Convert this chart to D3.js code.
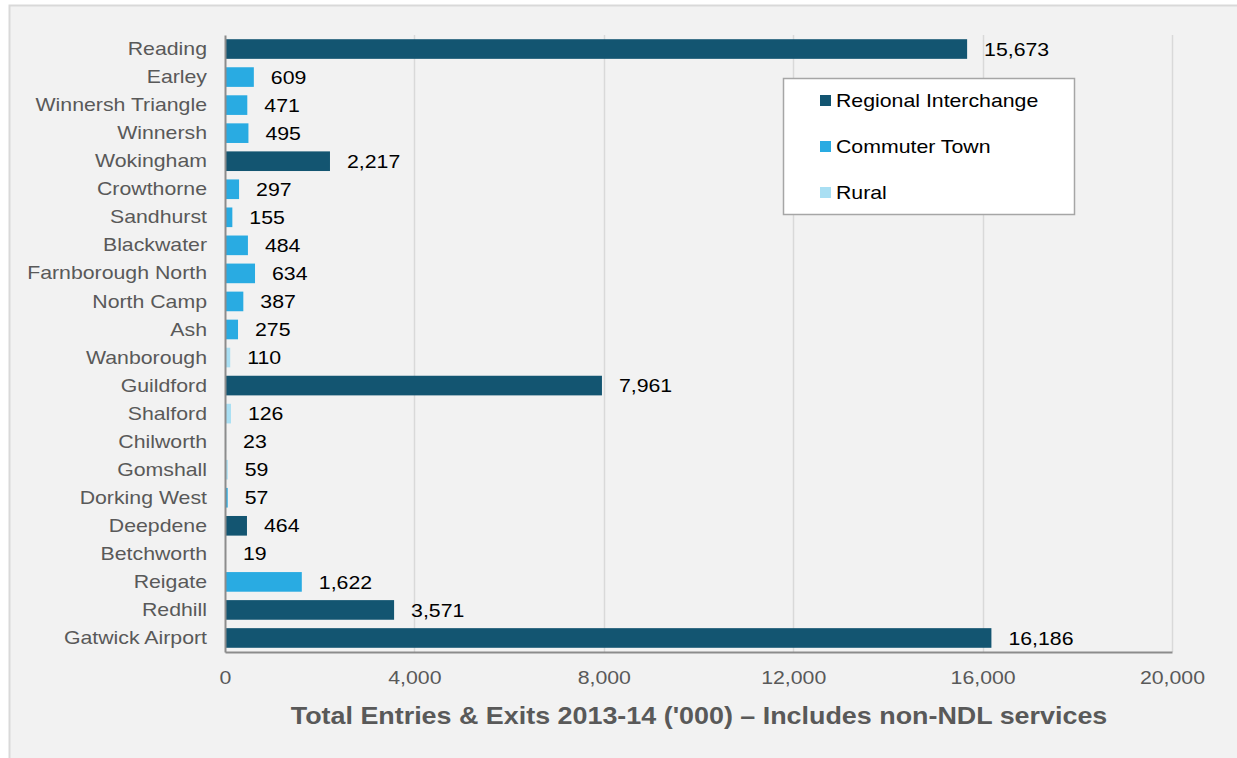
<!DOCTYPE html>
<html>
<head>
<meta charset="utf-8">
<script src="https://cdn.jsdelivr.net/npm/d3@7"></script>
<style>
  html, body { margin: 0; padding: 0; background: #ffffff; }
  svg { display: block; font-family: "Liberation Sans", Arial, sans-serif; }
</style>
</head>
<body>
<svg id="chart" width="1237" height="758"></svg>
<script>
// Stations along the North Downs Line, west to east
const stations = ["Reading", "Earley", "Winnersh Triangle", "Winnersh", "Wokingham", "Crowthorne",
  "Sandhurst", "Blackwater", "Farnborough North", "North Camp", "Ash", "Wanborough", "Guildford",
  "Shalford", "Chilworth", "Gomshall", "Dorking West", "Deepdene", "Betchworth", "Reigate",
  "Redhill", "Gatwick Airport"];
// Total entries & exits 2013-14 ('000)
const entriesExits = [15673, 609, 471, 495, 2217, 297, 155, 484, 634, 387, 275, 110, 7961,
  126, 23, 59, 57, 464, 19, 1622, 3571, 16186];
// Station type
const stationTypes = ["Regional Interchange", "Commuter Town", "Commuter Town", "Commuter Town",
  "Regional Interchange", "Commuter Town", "Commuter Town", "Commuter Town", "Commuter Town",
  "Commuter Town", "Commuter Town", "Rural", "Regional Interchange", "Rural", "Rural", "Rural",
  "Commuter Town", "Regional Interchange", "Rural", "Commuter Town", "Regional Interchange",
  "Regional Interchange"];
const typeNames = ["Regional Interchange", "Commuter Town", "Rural"];
const typeColours = ["#135571", "#29abe2", "#a9dff3"];
const xTicks = [0, 4000, 8000, 12000, 16000, 20000];
const xTitle = "Total Entries & Exits 2013-14 ('000) \u2013 Includes non-NDL services";

const rows = stations.map((s, i) => ({ station: s, value: entriesExits[i], type: stationTypes[i] }));

const svg = d3.select("#chart");
const W = 1237, H = 758;
const margin = { left: 225, right: 65, top: 35, bottom: 106 };
const plotW = W - margin.left - margin.right;
const plotH = H - margin.top - margin.bottom;

// text in this chart is set slightly wide
const WIDEN = 1.12;
function widen(sel, k = WIDEN) {
  sel.each(function () {
    const len = this.getComputedTextLength();
    d3.select(this).attr("textLength", len * k).attr("lengthAdjust", "spacingAndGlyphs");
  });
}

// panel background and frame
svg.append("rect").attr("x", 0).attr("y", 0).attr("width", W).attr("height", H).attr("fill", "#ffffff");
svg.append("rect").attr("x", 9.5).attr("y", 5.5).attr("width", W).attr("height", H)
  .attr("fill", "#f2f2f2").attr("stroke", "#d9d9d9").attr("stroke-width", 2);

const x = d3.scaleLinear().domain([0, 20000]).range([0, plotW]);
const y = d3.scaleBand().domain(stations).range([0, plotH]).paddingInner(0.3).paddingOuter(0.15);
const colour = d3.scaleOrdinal().domain(typeNames).range(typeColours);

const g = svg.append("g").attr("transform", `translate(${margin.left},${margin.top})`);

// vertical gridlines
g.append("g").selectAll("line").data(xTicks.slice(1)).join("line")
  .attr("x1", d => Math.round(x(d)) + 0.5).attr("x2", d => Math.round(x(d)) + 0.5)
  .attr("y1", 0).attr("y2", plotH)
  .attr("stroke", "#d9d9d9").attr("stroke-width", 1.5);

// bars
g.append("g").selectAll("rect").data(rows).join("rect")
  .attr("x", 0).attr("y", d => y(d.station))
  .attr("width", d => x(d.value)).attr("height", y.bandwidth())
  .attr("fill", d => colour(d.type));

// value labels
const valueLabels = g.append("g").selectAll("text").data(rows).join("text")
  .attr("x", d => x(d.value) + 17).attr("y", d => y(d.station) + y.bandwidth() / 2)
  .attr("dy", "0.35em").attr("font-size", 19).attr("fill", "#000000")
  .text(d => d3.format(",")(d.value));
widen(valueLabels);

// category axis
const yAxis = g.append("g").call(d3.axisLeft(y).tickSize(0).tickPadding(18));
yAxis.select(".domain").attr("stroke", "#8c8c8c").attr("stroke-width", 2);
yAxis.selectAll("text").attr("font-size", 19).attr("fill", "#595959")
  .attr("font-family", "Liberation Sans, Arial, sans-serif");
widen(yAxis.selectAll("text"));

// value axis
const xAxis = g.append("g").attr("transform", `translate(0,${plotH})`)
  .call(d3.axisBottom(x).tickValues(xTicks).tickFormat(d3.format(",")).tickSize(0).tickPadding(19));
xAxis.select(".domain").attr("stroke", "#8c8c8c").attr("stroke-width", 2);
xAxis.selectAll("text").attr("font-size", 19).attr("fill", "#595959")
  .attr("font-family", "Liberation Sans, Arial, sans-serif");
widen(xAxis.selectAll("text"));

// axis title
const title = svg.append("text").attr("x", 699).attr("y", 724).attr("text-anchor", "middle")
  .attr("font-size", 24).attr("font-weight", "bold").attr("fill", "#595959")
  .text(xTitle);
widen(title);

// legend
const lg = svg.append("g").attr("transform", "translate(783,78)");
lg.append("rect").attr("x", 0.5).attr("y", 0.5).attr("width", 291).attr("height", 136)
  .attr("fill", "#ffffff").attr("stroke", "#a6a6a6").attr("stroke-width", 1.5);
const items = lg.selectAll("g.item").data(typeNames).join("g").attr("class", "item")
  .attr("transform", (d, i) => `translate(37,${23 + i * 46})`);
items.append("rect").attr("x", 0).attr("y", -6).attr("width", 11).attr("height", 11)
  .attr("fill", d => colour(d));
const legendText = items.append("text").attr("x", 16).attr("y", 0).attr("dy", "0.35em")
  .attr("font-size", 18.5).attr("fill", "#000000").text(d => d);
widen(legendText, 1.15);
</script>
</body>
</html>
